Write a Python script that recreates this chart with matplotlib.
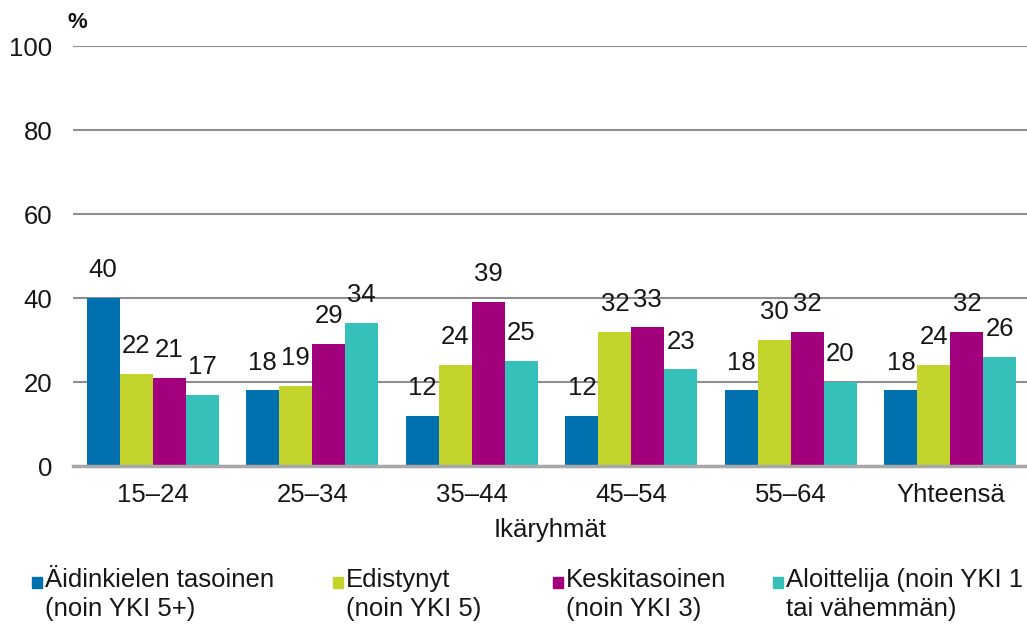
import matplotlib
matplotlib.use("Agg")
import matplotlib.pyplot as plt
from matplotlib.patches import Rectangle
import numpy as np

plt.rcParams['font.family'] = ['Liberation Sans', 'DejaVu Sans']

categories = ["15–24", "25–34", "35–44", "45–54", "55–64", "Yhteensä"]
series_names = ["Äidinkielen tasoinen\n(noin YKI 5+)",
                "Edistynyt\n(noin YKI 5)",
                "Keskitasoinen\n(noin YKI 3)",
                "Aloittelija (noin YKI 1\ntai vähemmän)"]
aidinkieli = [40, 18, 12, 12, 18, 18]
edistynyt = [22, 19, 24, 32, 30, 24]
keskitaso = [21, 29, 39, 33, 32, 32]
aloittelija = [17, 34, 25, 23, 20, 26]
yticks = [0, 20, 40, 60, 80, 100]
colors = ["#0070AE", "#C3D52D", "#A2007C", "#35C0B9"]

W, H = 1027, 626
fig = plt.figure(figsize=(W / 100, H / 100), dpi=100)
ax = fig.add_axes([73 / W, (H - 466) / H, (W - 73) / W, (466 - 46) / H])

series = [aidinkieli, edistynyt, keskitaso, aloittelija]
x = np.arange(len(categories))
bw = 0.207
txtc = "#161616"
for i, (vals, c) in enumerate(zip(series, colors)):
    pos = x + (i - 1.5) * bw
    bars = ax.bar(pos, vals, width=bw, color=c, zorder=3)
    for b, v in zip(bars, vals):
        ax.annotate(str(v), (b.get_x() + b.get_width() / 2, v),
                    xytext=(0, 20), textcoords="offset points",
                    ha="center", va="center", fontsize=18.5, color=txtc, zorder=4)

ax.set_xlim(-0.5, 5.48)
ax.set_ylim(0, 100)
ax.set_yticks(yticks)
ax.set_yticklabels([str(t) for t in yticks], fontsize=18.5, color=txtc)
ax.set_xticks(x)
ax.set_xticklabels(categories, fontsize=18.5, color=txtc)
ax.tick_params(axis="y", length=0, pad=15)
ax.tick_params(axis="x", length=0, pad=12)
for s in ["top", "right", "left"]:
    ax.spines[s].set_visible(False)
ax.spines["bottom"].set_color("#a8a8a8")
ax.spines["bottom"].set_linewidth(2.5)
ax.spines["bottom"].set_zorder(5)
ax.grid(axis="y", color="#8f8f8f", linewidth=1.5, zorder=0)
ax.set_axisbelow(True)
ax.set_xlabel("Ikäryhmät", fontsize=18.5, color=txtc, labelpad=8)

fig.text(68 / W, 1 - 22 / H, "%", fontsize=16, color=txtc, ha="left", va="center",
         fontweight="bold")

# legend
leg_x = [32, 333, 553, 773]
for lx, name, c in zip(leg_x, series_names, colors):
    fig.patches.append(Rectangle((lx / W, 1 - 588 / H), 10 / W, 11 / H,
                                 transform=fig.transFigure, color=c))
    fig.text((lx + 13) / W, 1 - 568 / H, name, fontsize=18.5, color=txtc,
             ha="left", va="top", linespacing=1.28)

fig.savefig("out.png", dpi=100)
